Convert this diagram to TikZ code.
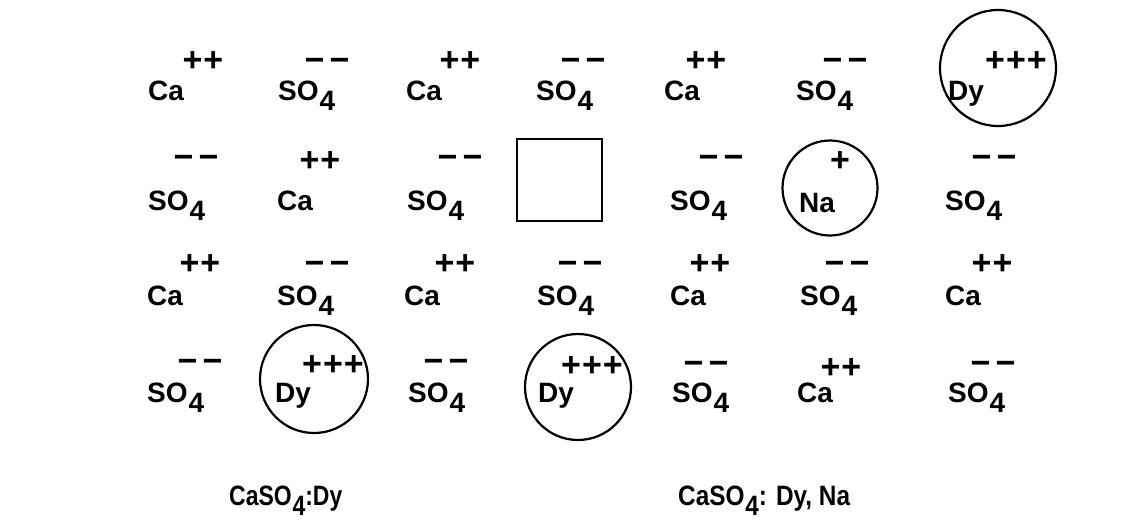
\documentclass[tikz,border=0pt]{standalone}
\usepackage{fontspec}
\setmainfont{Liberation Sans}
\newcommand{\sofour}{SO\kern1pt\raisebox{-10pt}{4}}
\newcommand{\pp}{+\kern1pt+}
\newcommand{\ppp}{+\kern1pt+\kern1pt+}
\newcommand{\mm}{\textminus\kern5pt\textminus}
\begin{document}
\begin{tikzpicture}[x=1pt,y=-1pt,
  el/.style={anchor=base west,inner sep=0pt,font=\fontsize{28}{30}\selectfont\bfseries},
  chg/.style={anchor=center,inner sep=0pt,font=\fontsize{34}{36}\selectfont\bfseries},
  ring/.style={draw,circle,line width=2.2pt,inner sep=0pt},
  vac/.style={draw,line width=2.4pt,inner sep=0pt,minimum width=85pt,minimum height=82pt}]
\useasboundingbox (0,0) rectangle (1145,525);
% Row 1
\node[el] (a1) at (148,100) {Ca};      \node[chg] (a1q) at (203,62) {\pp};
\node[el] (a2) at (278,100) {\sofour}; \node[chg] (a2q) at (327,65) {\mm};
\node[el] (a3) at (406,100) {Ca};      \node[chg] (a3q) at (460,62) {\pp};
\node[el] (a4) at (536,100) {\sofour}; \node[chg] (a4q) at (583,65) {\mm};
\node[el] (a5) at (664,100) {Ca};      \node[chg] (a5q) at (706,62) {\pp};
\node[el] (a6) at (796,100) {\sofour}; \node[chg] (a6q) at (845,65) {\mm};
\node[ring,minimum size=116pt] (a7c) at (998,68) {};
\node[el] (a7) at (948,100) {Dy};      \node[chg] (a7q) at (1016,62) {\ppp};
% Row 2
\node[el] (b1) at (148,210) {\sofour}; \node[chg] (b1q) at (196,162) {\mm};
\node[el] (b2) at (277,210) {Ca};      \node[chg] (b2q) at (320,162) {\pp};
\node[el] (b3) at (407,210) {\sofour}; \node[chg] (b3q) at (460,162) {\mm};
\node[vac] (b4) at (559.5,180) {};
\node[el] (b5) at (670,210) {\sofour}; \node[chg] (b5q) at (721,162) {\mm};
\node[ring,minimum size=95pt] (b6c) at (830,188) {};
\node[el] (b6) at (799,212) {Na};      \node[chg] (b6q) at (840,162) {+};
\node[el] (b7) at (945,210) {\sofour}; \node[chg] (b7q) at (994,162) {\mm};
% Row 3
\node[el] (c1) at (147,305) {Ca};      \node[chg] (c1q) at (200,265) {\pp};
\node[el] (c2) at (277,305) {\sofour}; \node[chg] (c2q) at (327,268) {\mm};
\node[el] (c3) at (404,305) {Ca};      \node[chg] (c3q) at (455,265) {\pp};
\node[el] (c4) at (537,305) {\sofour}; \node[chg] (c4q) at (580,268) {\mm};
\node[el] (c5) at (670,305) {Ca};      \node[chg] (c5q) at (710,265) {\pp};
\node[el] (c6) at (800,305) {\sofour}; \node[chg] (c6q) at (847,268) {\mm};
\node[el] (c7) at (945,305) {Ca};      \node[chg] (c7q) at (992,265) {\pp};
% Row 4
\node[el] (d1) at (147,402) {\sofour}; \node[chg] (d1q) at (200,366) {\mm};
\node[ring,minimum size=108pt] (d2c) at (314,379) {};
\node[el] (d2) at (275,402) {Dy};      \node[chg] (d2q) at (333,366) {\ppp};
\node[el] (d3) at (408,402) {\sofour}; \node[chg] (d3q) at (446,366) {\mm};
\node[ring,minimum size=106pt] (d4c) at (578,387) {};
\node[el] (d4) at (538,402) {Dy};      \node[chg] (d4q) at (592,367) {\ppp};
\node[el] (d5) at (672,402) {\sofour}; \node[chg] (d5q) at (706,368) {\mm};
\node[el] (d6) at (797,402) {Ca};      \node[chg] (d6q) at (841,369) {\pp};
\node[el] (d7) at (948,402) {\sofour}; \node[chg] (d7q) at (993,368) {\mm};
% Labels
\node[el] (l1) at (229,505) {\scalebox{0.82}[1]{Ca\sofour:Dy}};
\node[el] (l2) at (678,505) {\scalebox{0.87}[1]{Ca\sofour: Dy, Na}};
\end{tikzpicture}
\end{document}
